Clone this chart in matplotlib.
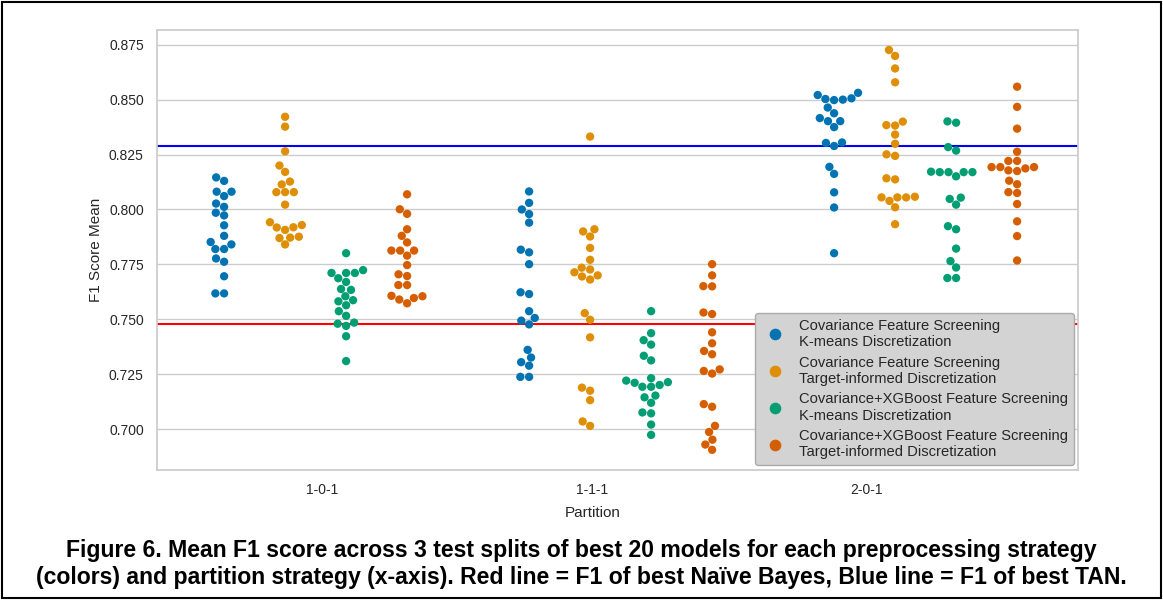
import numpy as np
import pandas as pd
import matplotlib
matplotlib.use("Agg")
import matplotlib.pyplot as plt
from matplotlib.patches import Rectangle
import seaborn as sns

partitions = ["1-0-1", "1-1-1", "2-0-1"]
strategies = [
    "Covariance Feature Screening\nK-means Discretization",
    "Covariance Feature Screening\nTarget-informed Discretization",
    "Covariance+XGBoost Feature Screening\nK-means Discretization",
    "Covariance+XGBoost Feature Screening\nTarget-informed Discretization",
]

# 1-0-1
p1_cov_km = [0.8146, 0.8130, 0.8081, 0.8061, 0.8081, 0.8027, 0.8012, 0.7985, 0.7973, 0.7928,
             0.7880, 0.7852, 0.7820, 0.7820, 0.7841, 0.7777, 0.7762, 0.7696, 0.7618, 0.7618]
p1_cov_ti = [0.8422, 0.8377, 0.8265, 0.8200, 0.8171, 0.8114, 0.8127, 0.8079, 0.8079, 0.8079,
             0.8022, 0.7942, 0.7918, 0.7907, 0.7919, 0.7929, 0.7870, 0.7872, 0.7876, 0.7841]
p1_xgb_km = [0.7801, 0.7711, 0.7711, 0.7711, 0.7724, 0.7687, 0.7670, 0.7638, 0.7634, 0.7582,
             0.7605, 0.7587, 0.7537, 0.7564, 0.7516, 0.7480, 0.7470, 0.7485, 0.7423, 0.7310]
p1_xgb_ti = [0.8069, 0.8001, 0.7980, 0.7910, 0.7880, 0.7850, 0.7813, 0.7813, 0.7790, 0.7813,
             0.7747, 0.7705, 0.7697, 0.7656, 0.7656, 0.7607, 0.7590, 0.7573, 0.7597, 0.7605]
# 1-1-1
p2_cov_km = [0.8082, 0.8030, 0.8000, 0.7979, 0.7940, 0.7817, 0.7805, 0.7751, 0.7623, 0.7615,
             0.7537, 0.7494, 0.7506, 0.7477, 0.7361, 0.7326, 0.7305, 0.7289, 0.7238, 0.7238]
p2_cov_ti = [0.8332, 0.7900, 0.7910, 0.7877, 0.7825, 0.7771, 0.7735, 0.7727, 0.7695, 0.7681,
             0.7700, 0.7714, 0.7528, 0.7498, 0.7418, 0.7189, 0.7175, 0.7132, 0.7035, 0.7015]
p2_xgb_km = [0.7537, 0.7437, 0.7405, 0.7385, 0.7334, 0.7313, 0.7221, 0.7211, 0.7193, 0.7232,
             0.7193, 0.7201, 0.7214, 0.7145, 0.7153, 0.7120, 0.7076, 0.7072, 0.7021, 0.6974]
p2_xgb_ti = [0.7751, 0.7700, 0.7651, 0.7650, 0.7531, 0.7524, 0.7441, 0.7391, 0.7356, 0.7341,
             0.7265, 0.7253, 0.7272, 0.7114, 0.7102, 0.7015, 0.6987, 0.6952, 0.6930, 0.6906]
# 2-0-1
p3_cov_km = [0.8531, 0.8506, 0.8503, 0.8500, 0.8498, 0.8521, 0.8464, 0.8438, 0.8402, 0.8402,
             0.8416, 0.8375, 0.8303, 0.8289, 0.8305, 0.8194, 0.8162, 0.8078, 0.8009, 0.7801]
p3_cov_ti = [0.8726, 0.8699, 0.8642, 0.8579, 0.8384, 0.8382, 0.8400, 0.8341, 0.8299, 0.8251,
             0.8244, 0.8142, 0.8137, 0.8055, 0.8039, 0.8055, 0.8055, 0.8058, 0.8010, 0.7933]
p3_xgb_km = [0.8401, 0.8395, 0.8284, 0.8268, 0.8172, 0.8170, 0.8151, 0.8170, 0.8170, 0.8170,
             0.8048, 0.8054, 0.8022, 0.7924, 0.7910, 0.7822, 0.7765, 0.7736, 0.7688, 0.7688]
p3_xgb_ti = [0.8559, 0.8467, 0.8368, 0.8263, 0.8193, 0.8193, 0.8221, 0.8221, 0.8178, 0.8175,
             0.8187, 0.8193, 0.8131, 0.8115, 0.8079, 0.8075, 0.8025, 0.7946, 0.7879, 0.7768]

best_nb = 0.7480
best_tan = 0.8287

groups = [
    [p1_cov_km, p1_cov_ti, p1_xgb_km, p1_xgb_ti],
    [p2_cov_km, p2_cov_ti, p2_xgb_km, p2_xgb_ti],
    [p3_cov_km, p3_cov_ti, p3_xgb_km, p3_xgb_ti],
]

rows = []
for part, per_strat in zip(partitions, groups):
    for strat, vals in zip(strategies, per_strat):
        for v in vals:
            rows.append((part, strat, v))
df = pd.DataFrame(rows, columns=["Partition", "Strategy", "F1 Score Mean"])

sns.set_theme(style="whitegrid")
plt.rcParams["font.family"] = ["Liberation Sans", "DejaVu Sans"]

fig = plt.figure(figsize=(11.63, 6.0), dpi=100)
ax = fig.add_axes([0.135, 0.217, 0.792, 0.733])

sns.swarmplot(data=df, x="Partition", y="F1 Score Mean", hue="Strategy",
              order=partitions, hue_order=strategies, dodge=True,
              palette="colorblind", size=6, ax=ax)

ax.axhline(best_nb, color="red", lw=1.5)
ax.axhline(best_tan, color="blue", lw=1.5)

ax.set_yticks([0.700, 0.725, 0.750, 0.775, 0.800, 0.825, 0.850, 0.875])
ax.set_yticklabels(["0.700", "0.725", "0.750", "0.775", "0.800", "0.825", "0.850", "0.875"])
ax.set_xlim(-0.52, 2.5)
ax.set_xticks([0.02, 0.907, 1.805])
ax.set_xticklabels(partitions)
ax.tick_params(labelsize=10)
ax.set_xlabel("Partition", fontsize=11)
ax.set_ylabel("F1 Score Mean", fontsize=11)
ax.xaxis.set_label_coords(0.473, -0.082)

leg = ax.legend(loc="lower right", fontsize=10.6, markerscale=1.4,
                facecolor="#d3d3d3", edgecolor="#aaaaaa", framealpha=1.0,
                labelspacing=0.45, handletextpad=0.6, borderaxespad=0.3)

fig.text(0.5, 0.06,
         "Figure 6. Mean F1 score across 3 test splits of best 20 models for each preprocessing strategy\n"
         "(colors) and partition strategy (x-axis). Red line = F1 of best Naïve Bayes, Blue line = F1 of best TAN.",
         ha="center", va="center", fontsize=16.6, fontweight="bold", linespacing=1.2,
         color="black")

fig.patches.append(Rectangle((0.002, 0.003), 0.996, 0.994, transform=fig.transFigure,
                             fill=False, edgecolor="black", lw=1.5))

fig.savefig("out.png", dpi=100)
